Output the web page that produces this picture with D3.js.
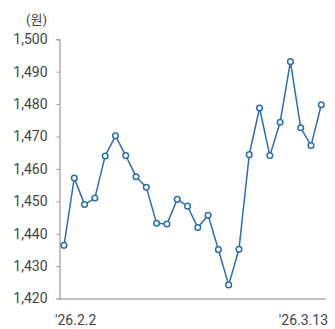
<!DOCTYPE html>
<html>
<head>
<meta charset="utf-8">
<script src="https://cdn.jsdelivr.net/npm/d3@7"></script>
<style>
  body { margin: 0; background: #fff; }
  text { font-family: Roboto, "Noto Sans CJK KR", sans-serif; fill: #444; }
</style>
</head>
<body>
<svg id="chart" width="335" height="329"></svg>
<script>
// business days, '26.2.2 ~ '26.3.13
const dates = ["2.2","2.3","2.4","2.5","2.6","2.9","2.10","2.11","2.12","2.13",
  "2.19","2.20","2.23","2.24","2.25","2.26","2.27",
  "3.3","3.4","3.5","3.6","3.9","3.10","3.11","3.12","3.13"];
const rates = [1436.4,1457.2,1449.0,1451.0,1464.0,1470.2,1464.1,1457.6,1454.3,1443.2,
  1443.0,1450.6,1448.5,1441.9,1445.7,1435.1,1424.2,
  1435.2,1464.4,1478.8,1464.1,1474.4,1493.1,1472.7,1467.2,1479.8];
const yTicks = [1420,1430,1440,1450,1460,1470,1480,1490,1500];
const xLabels = ["'26.2.2", "'26.3.13"];

const svg = d3.select("#chart");
const m = { left: 59.5, right: 326, top: 39.3, bottom: 298.5 };

const x = d3.scalePoint().domain(dates).range([64, 321.3]);
const y = d3.scaleLinear().domain([1420, 1500]).range([m.bottom, m.top]);

// y axis
const ya = svg.append("g").attr("transform", `translate(${m.left},0)`)
  .call(d3.axisLeft(y).tickValues(yTicks).tickSize(3).tickPadding(9)
    .tickFormat(d3.format(",")));
ya.select(".domain").attr("stroke", "#999").attr("stroke-width", 1.2);
ya.selectAll(".tick line").attr("stroke", "#999");
ya.selectAll(".tick text").style("font-size", "14px").attr("fill", "#444");

// x baseline
svg.append("line")
  .attr("x1", m.left).attr("x2", m.right)
  .attr("y1", m.bottom + 0.5).attr("y2", m.bottom + 0.5)
  .attr("stroke", "#888").attr("stroke-width", 1.2);

svg.append("text").attr("x", 47).attr("y", 24)
  .attr("text-anchor", "end").style("font-size", "13px").text("(원)");

svg.append("text").attr("x", 55).attr("y", 325)
  .style("font-size", "14px").text(xLabels[0]);
svg.append("text").attr("x", 328).attr("y", 325)
  .attr("text-anchor", "end").style("font-size", "14px").text(xLabels[1]);

const line = d3.line().x((d, i) => x(dates[i])).y(d => y(d));
svg.append("path").datum(rates)
  .attr("d", line).attr("fill", "none")
  .attr("stroke", "#2c6db2").attr("stroke-width", 1.5);

svg.selectAll("circle.pt").data(rates).enter().append("circle")
  .attr("class", "pt")
  .attr("cx", (d, i) => x(dates[i]))
  .attr("cy", d => y(d))
  .attr("r", 2.8)
  .attr("fill", "#fff")
  .attr("stroke", "#2c6db2").attr("stroke-width", 1.5);
</script>
</body>
</html>
